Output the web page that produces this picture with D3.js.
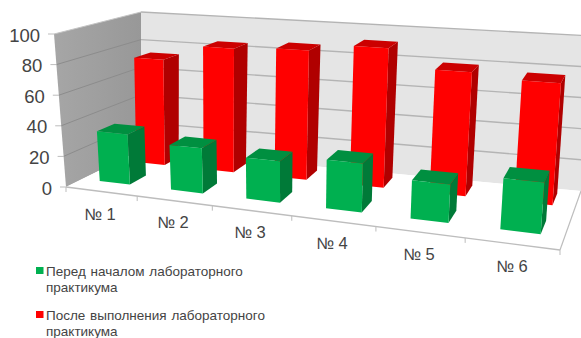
<!DOCTYPE html>
<html lang="ru">
<head>
<meta charset="utf-8">
<style>
html,body{margin:0;padding:0;background:#fff}
svg{display:block}
text{font-family:"Liberation Sans",Arial,sans-serif}
</style>
<script src="https://cdn.jsdelivr.net/npm/d3@7"></script>
</head>
<body>
<svg id="chart" width="581" height="338"></svg>
<script>
// Chart data
const categories = ["№ 1", "№ 2", "№ 3", "№ 4", "№ 5", "№ 6"];
const beforeValues = [33, 29, 26, 30, 23, 30];
const afterValues = [73, 84, 86, 91, 79, 76];
const seriesNames = [
  ["Перед началом лабораторного", "практикума"],
  ["После выполнения лабораторного", "практикума"]
];
const valueTicks = [0, 20, 40, 60, 80, 100];

const svg = d3.select("#chart");

// Corners of the plot box on screen: floor and ceiling planes
const floor = { fl: [66, 187], fr: [560, 250], bl: [141, 150], br: [581, 191] };
const ceil = { fl: [54, 34], fr: [574, 72], bl: [141, 12], br: [592, 36] };

const lerp = (a, b, t) => a + (b - a) * t;
const bilinear = (c, t, d) => {
  const fx = lerp(c.fl[0], c.fr[0], t), fy = lerp(c.fl[1], c.fr[1], t);
  const bx = lerp(c.bl[0], c.br[0], t), by = lerp(c.bl[1], c.br[1], t);
  return [lerp(fx, bx, d), lerp(fy, by, d)];
};

// Scales: category position, value height, and foreshortening along the width
const x = d3.scaleBand().domain(categories).range([0, 1]).paddingInner(0.57).paddingOuter(0.25);
const y = d3.scaleLinear().domain([0, 100]).range([0, 1]);
const foreshorten = u => u / (u + (1 - u) * 1.188);

// Project (u across, d into depth, v value) onto the screen
const project = (u, d, v) => {
  const t = foreshorten(u);
  const a = bilinear(floor, t, d), b = bilinear(ceil, t, d);
  const h = y(v);
  return [lerp(a[0], b[0], h), lerp(a[1], b[1], h)];
};

const path = d3.line().curve(d3.curveLinearClosed);

// Walls and floor
const wall = (pts, fill) => svg.append("path").attr("d", path(pts)).attr("fill", fill);
const defs = svg.append("defs");
const grad = defs.append("linearGradient").attr("id", "leftWall")
  .attr("x1", 0).attr("x2", 1).attr("y1", 0).attr("y2", 0);
grad.append("stop").attr("offset", "0%").attr("stop-color", "#a6a6a6");
grad.append("stop").attr("offset", "100%").attr("stop-color", "#989898");

wall([project(0, 0, 0), project(0, 1, 0), project(0, 1, 100), project(0, 0, 100)], "url(#leftWall)");
wall([project(0, 1, 0), project(1, 1, 0), project(1, 1, 100), project(0, 1, 100)], "#e5e5e5");
wall([project(0, 0, 0), project(1, 0, 0), project(1, 1, 0), project(0, 1, 0)], "#ffffff");

// Gridlines on both walls, including the top edge at 100
const seg = (a, b, color, w) => svg.append("line")
  .attr("x1", a[0]).attr("y1", a[1]).attr("x2", b[0]).attr("y2", b[1])
  .attr("stroke", color).attr("stroke-width", w);

valueTicks.forEach(v => {
  if (v > 0) seg(project(0, 0, v), project(0, 1, v), v === 100 ? "#c4c4c4" : "#8c8c8c", 1);
  if (v > 0) seg(project(0, 1, v), project(1, 1, v), "#b4b4b4", 1.4);
});
seg(project(1, 0, 0), project(1, 1, 0), "#bdbdbd", 1.2);
seg(project(0, 0, 0), project(1, 0, 0), "#bdbdbd", 1.4);

// Value axis ticks and labels
valueTicks.forEach(v => {
  const p = project(0, 0, v);
  seg([p[0] - 6, p[1]], p, "#bdbdbd", 1);
  svg.append("text").attr("x", p[0] - 14).attr("y", p[1] + 7.5)
    .attr("text-anchor", "end").attr("font-size", 18.5).attr("fill", "#444444").text(v);
});

// Category axis ticks and labels
const labelAt = [[100, 220], [173, 228], [250, 238], [332, 249], [419, 260], [512, 272]];
d3.range(categories.length + 1).forEach(i => {
  const p = project(i / categories.length, 0, 0);
  seg(p, [p[0], p[1] + 5], "#bdbdbd", 1);
});
categories.forEach((c, i) => {
  svg.append("text").attr("x", labelAt[i][0]).attr("y", labelAt[i][1])
    .attr("text-anchor", "middle").attr("font-size", 16.5).attr("fill", "#444444").text(c);
});

// Cuboid for one bar: side, top, then front face
function bar(cat, value, d0, d1, colors) {
  const u0 = x(cat), u1 = u0 + x.bandwidth();
  const g = svg.append("g");
  g.append("path").attr("fill", colors.side).attr("d", path([
    project(u1, d0, 0), project(u1, d1, 0), project(u1, d1, value), project(u1, d0, value)]));
  g.append("path").attr("fill", colors.top).attr("d", path([
    project(u0, d0, value), project(u1, d0, value), project(u1, d1, value), project(u0, d1, value)]));
  g.append("path").attr("fill", colors.front).attr("d", path([
    project(u0, d0, 0), project(u1, d0, 0), project(u1, d0, value), project(u0, d0, value)]));
}

const red = { front: "#ff0000", side: "#b00000", top: "#cc0000" };
const green = { front: "#00b050", side: "#007a38", top: "#008f40" };
categories.forEach((c, i) => bar(c, afterValues[i], 0.72, 0.92, red));
categories.forEach((c, i) => bar(c, beforeValues[i], 0.22, 0.45, green));

// Legend
const legendColors = [green.front, red.front];
const legendTop = [271, 315];
seriesNames.forEach((lines, i) => {
  svg.append("rect").attr("x", 36).attr("y", legendTop[i] - 4).attr("width", 7.5).attr("height", 7)
    .attr("fill", legendColors[i]);
  lines.forEach((line, j) => {
    svg.append("text").attr("x", 46).attr("y", legendTop[i] + 4.5 + j * 16.5)
      .attr("font-size", 13.5).attr("word-spacing", 1).attr("fill", "#444444").text(line);
  });
});
</script>
</body>
</html>
